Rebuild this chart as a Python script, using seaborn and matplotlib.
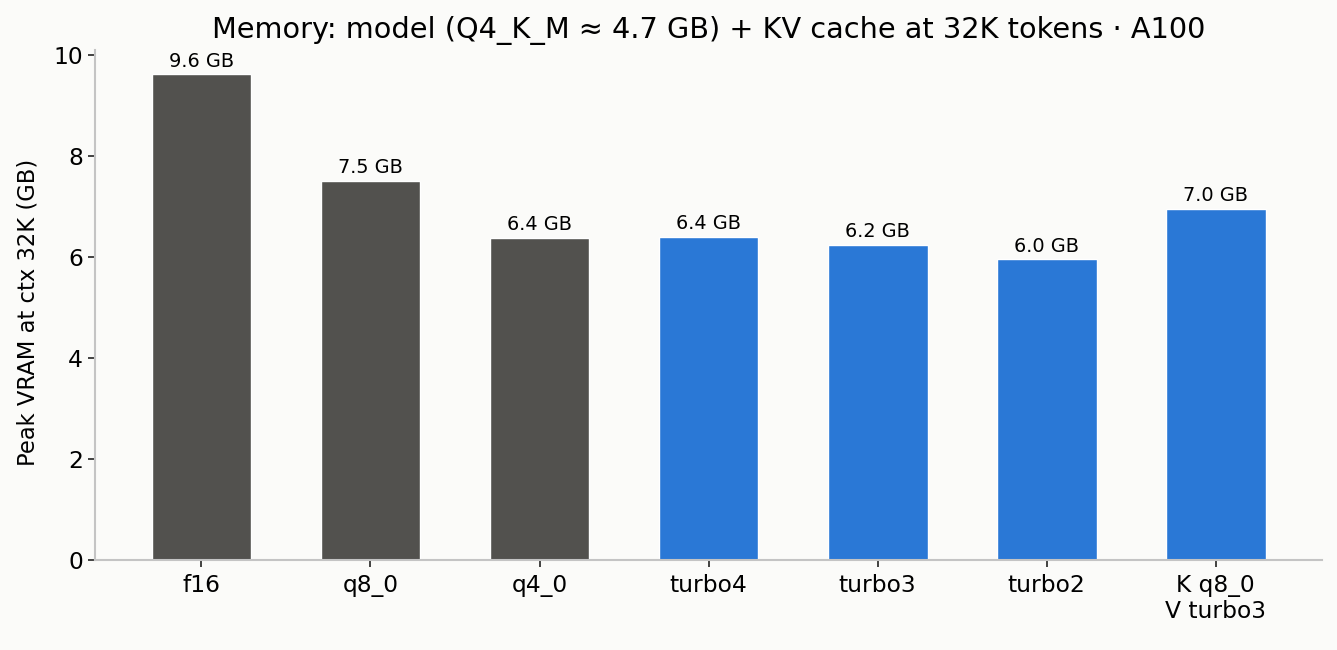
import matplotlib
matplotlib.use("Agg")
import matplotlib.pyplot as plt
import pandas as pd
import seaborn as sns

# 数据
configs = ["f16", "q8_0", "q4_0", "turbo4", "turbo3", "turbo2", "K q8_0\nV turbo3"]
peak_vram = [9.62, 7.51, 6.38, 6.40, 6.24, 5.96, 6.96]
groups = ["baseline", "baseline", "baseline", "turbo", "turbo", "turbo", "turbo"]

bar_colors = {"baseline": "#52514e", "turbo": "#2a78d6"}

df = pd.DataFrame({"config": configs, "vram": peak_vram, "group": groups})

sns.set_theme(style="white", rc={"text.color": "black", "axes.labelcolor": "black",
                                 "xtick.color": "black", "ytick.color": "black"})
plt.rcParams["font.family"] = ["DejaVu Sans"]

bg = "#fbfbf9"
fig, ax = plt.subplots(figsize=(13.37, 6.5), dpi=100)
fig.patch.set_facecolor(bg)
ax.set_facecolor(bg)

sns.barplot(data=df, x="config", y="vram", hue="group", palette=bar_colors,
            dodge=False, width=0.59, legend=False, saturation=1, ax=ax)

# 柱顶标注
for i, v in enumerate(peak_vram):
    ax.annotate(f"{v:.1f} GB", (i, v), xytext=(0, 2.5), textcoords="offset points",
                ha="center", va="bottom", fontsize=13.9, color="black")

ax.set_xlim(-0.63, 6.63)
ax.set_ylim(0, 10.1)
ax.set_yticks([0, 2, 4, 6, 8, 10])
ax.set_xlabel("")
ax.set_ylabel("Peak VRAM at ctx 32K (GB)", fontsize=16.3)
ax.yaxis.set_label_coords(-0.045, 0.485)
ax.set_title("Memory: model (Q4_K_M \u2248 4.7 GB) + KV cache at 32K tokens \u00b7 A100",
             fontsize=20.7, pad=9)
ax.tick_params(axis="both", labelsize=16.8, length=5, width=1.2, color="#222222",
               bottom=True, left=True)
ax.tick_params(axis="x", pad=5)

sns.despine(ax=ax)
for side in ["left", "bottom"]:
    ax.spines[side].set_color("#c4c4c4")
    ax.spines[side].set_linewidth(1.5)

fig.subplots_adjust(left=0.071, right=0.989, top=0.923, bottom=0.1385)
fig.savefig("out.png", dpi=100, facecolor=bg)
